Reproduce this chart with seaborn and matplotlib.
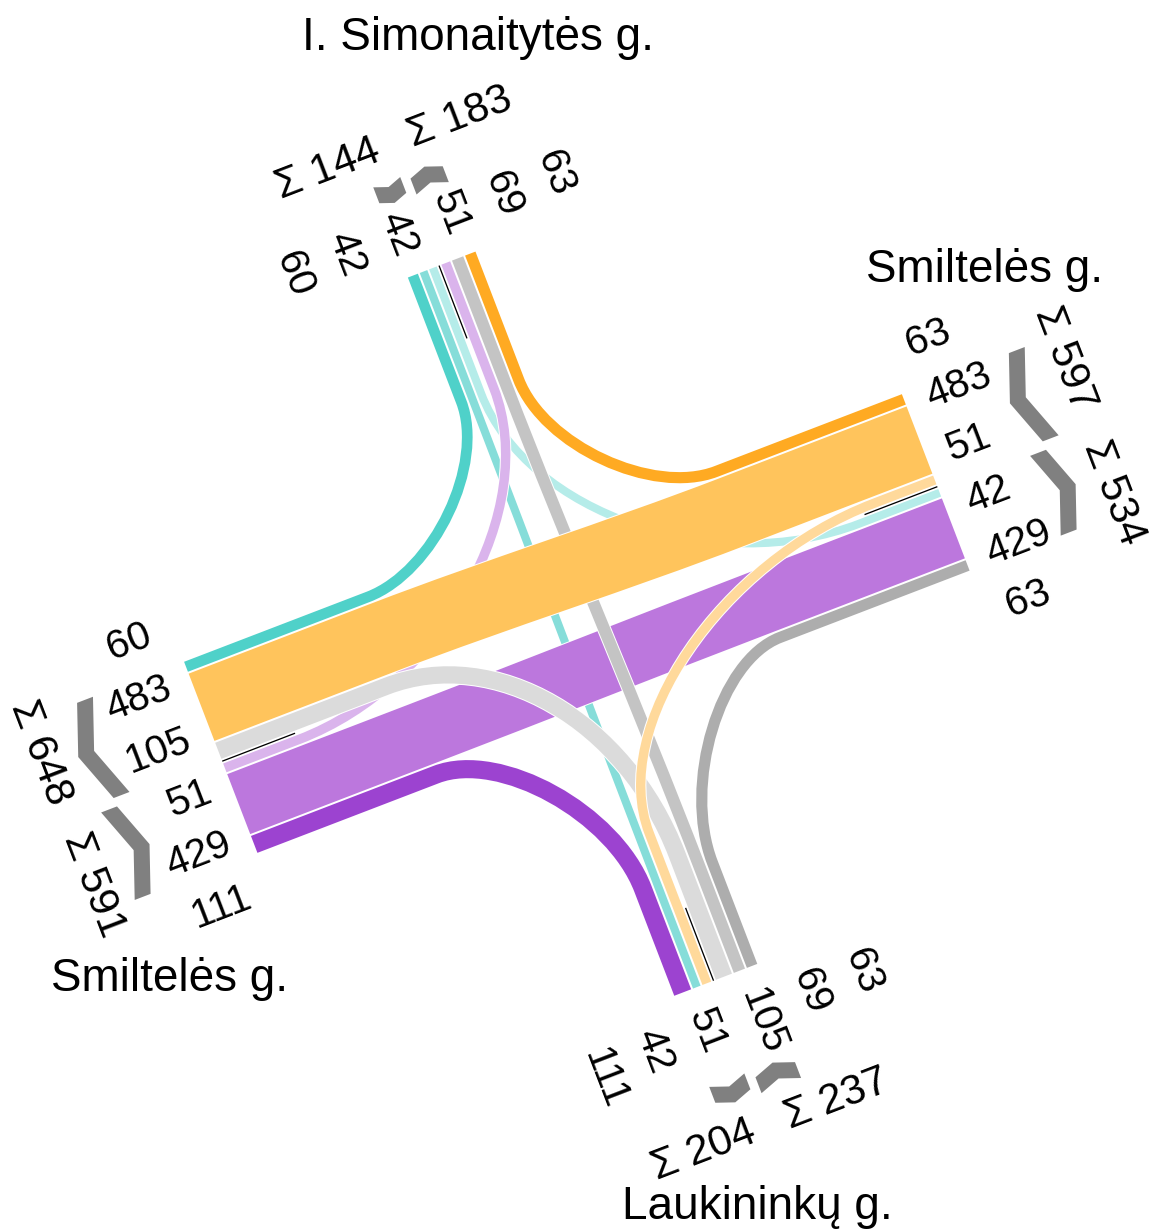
import numpy as np
import matplotlib
matplotlib.use('Agg')
import matplotlib.pyplot as plt
from matplotlib.path import Path
from matplotlib.patches import PathPatch, Polygon
import seaborn as sns

sns.set_theme(style='white')
plt.rcParams['font.family'] = ['Liberation Sans', 'DejaVu Sans']

# arms of the junction and their street names
arms = ['N', 'E', 'S', 'W']
street = {'N': 'I. Simonaitytės g.', 'E': 'Smiltelės g.',
          'S': 'Laukininkų g.', 'W': 'Smiltelės g.'}

# turning movements: origin -> destination, vehicles
flow_from = ['N', 'N', 'N', 'E', 'E', 'E', 'S', 'S', 'S', 'W', 'W', 'W']
flow_to = ['W', 'S', 'E', 'N', 'W', 'S', 'E', 'N', 'W', 'S', 'E', 'N']
flow_vol = [60, 42, 42, 63, 483, 51, 63, 69, 105, 111, 429, 51]

# colour by origin: right turn, straight, left turn
shades = {'N': ['#4fd1c9', '#86ddd9', '#b5ece9'],
          'E': ['#ffaa22', '#ffc45c', '#ffd99b'],
          'S': ['#adadad', '#c4c4c4', '#dbdbdb'],
          'W': ['#9c43d0', '#bc77dd', '#dab4ec']}

# layout (pixels)
cx, cy = 577, 625
theta = np.radians(21)
ct, st = np.cos(theta), np.sin(theta)
arm_len = {'N': 385, 'E': 386, 'S': 381, 'W': 380}
turn_start = {'N': 250, 'S': 270, 'E': 185, 'W': 185}
# where left turns leave / join their lanes (origin arm, destination arm)
left_reach = {('N', 'E'): (250, 300), ('E', 'S'): (320, 220),
              ('S', 'W'): (250, 200), ('W', 'N'): (300, 250)}
scale, base, gap, mid = 0.145, 2.0, 2.0, 5.0
PT = 0.72  # points per pixel at dpi 100
fs_num, fs_sum, fs_name = 29, 30.5, 33

out_dir = {'E': np.array([1., 0.]), 'N': np.array([0., 1.]),
           'W': np.array([-1., 0.]), 'S': np.array([0., -1.])}
angle = {'E': 0, 'N': 90, 'W': 180, 'S': 270}


def right_of(a):
    d = out_dir[a]
    return np.array([d[1], -d[0]])


def to_img(p):
    p = np.atleast_2d(p)
    x, y = p[:, 0], p[:, 1]
    return np.column_stack([cx + x * ct - y * st, cy - x * st - y * ct])


def turn(o, d):
    t = (angle[d] - angle[o] - 180) % 360
    return {0: 'straight', 90: 'left', 270: 'right'}[t]


def point(a, u, lat):
    return u * out_dir[a] + lat * right_of(a)


def spread(vals, step):
    vals = np.asarray(vals, float)
    order = np.argsort(vals)
    p = vals[order].copy()
    for _ in range(300):
        for j in range(len(p) - 1):
            d = step - (p[j + 1] - p[j])
            if d > 0:
                p[j] -= d / 2
                p[j + 1] += d / 2
    out = np.empty_like(p)
    out[order] = p
    return out


rank = {'left': 0, 'straight': 1, 'right': 2}
shade_idx = {'right': 0, 'straight': 1, 'left': 2}
n = len(flow_vol)
kind = [turn(flow_from[i], flow_to[i]) for i in range(n)]
width = [base + scale * v for v in flow_vol]

# lateral offsets of every band at both of its arms
lat_o, lat_d, groups = {}, {}, {}
for a in arms:
    ent = sorted([i for i in range(n) if flow_from[i] == a], key=lambda i: rank[kind[i]])
    lea = sorted([i for i in range(n) if flow_to[i] == a], key=lambda i: rank[kind[i]])
    pos = mid / 2
    for i in ent:
        lat_o[i] = -(pos + width[i] / 2)
        pos += width[i] + gap
    ent_edge = pos - gap
    pos = mid / 2
    for i in lea:
        lat_d[i] = pos + width[i] / 2
        pos += width[i] + gap
    lea_edge = pos - gap
    groups[a] = [(ent, -1, ent_edge), (lea, 1, lea_edge)]

fig = plt.figure(figsize=(11.54, 12.29), dpi=100)
ax = fig.add_axes([0, 0, 1, 1])
ax.set_xlim(0, 1154)
ax.set_ylim(1229, 0)
ax.axis('off')

codes = [Path.MOVETO, Path.LINETO, Path.CURVE4, Path.CURVE4, Path.CURVE4, Path.LINETO]
for o in ['N', 'W', 'S', 'E']:
    for i in [j for j in range(n) if flow_from[j] == o]:
        d = flow_to[i]
        k = kind[i]
        if k == 'left':
            du, dd = left_reach[(o, d)]
        else:
            du, dd = turn_start[o], turn_start[d]
        a_end = point(o, arm_len[o], lat_o[i])
        a0 = point(o, du, lat_o[i])
        b0 = point(d, dd, lat_d[i])
        b_end = point(d, arm_len[d], lat_d[i])
        if k == 'straight':
            dist = np.linalg.norm(a0 - b0)
            p1 = a0 - out_dir[o] * dist / 3
            p2 = b0 - out_dir[d] * dist / 3
        else:
            corner = lat_o[i] * right_of(o) + lat_d[i] * right_of(d)
            kk = 0.45 if k == 'right' else (0.55 if (o, d) == ('S', 'W') else 0.5)
            p1 = a0 + kk * (corner - a0)
            p2 = b0 + kk * (corner - b0)
        path = Path(to_img(np.array([a_end, a0, p1, p2, b0, b_end])), codes)
        col = shades[o][shade_idx[k]]
        ax.add_patch(PathPatch(path, fill=False, ec='white', lw=(width[i] + 2) * PT,
                               capstyle='butt', joinstyle='round'))
        ax.add_patch(PathPatch(path, fill=False, ec=col, lw=width[i] * PT,
                               capstyle='butt', joinstyle='round'))

for a in arms:
    L = arm_len[a]
    # centre line at the end of the arm
    seg = to_img(np.array([point(a, L, 0), point(a, L - 78, 0)]))
    ax.plot(seg[:, 0], seg[:, 1], color='black', lw=1.3 * PT, solid_capstyle='butt')

    # volume labels next to the band ends
    ids = [i for i in range(n) if flow_from[i] == a] + [i for i in range(n) if flow_to[i] == a]
    lats = [lat_o[i] if flow_from[i] == a else lat_d[i] for i in ids]
    spread_lat = spread(lats, 56)
    rot = 21 if a in 'EW' else -69
    ha = 'right' if a in 'NW' else 'left'
    for i, lt in zip(ids, spread_lat):
        x, y = to_img(point(a, L + 22, lt))[0]
        ax.text(x, y, str(flow_vol[i]), fontsize=fs_num, rotation=rot, rotation_mode='anchor',
                ha=ha, va='center', color='black')

    # direction chevrons and sums
    nchar = max(len(str(flow_vol[i])) for i in ids)
    u0 = L + 22 + nchar * 23.2 + 6
    thick = 17
    sum_lat, sum_txt, sum_u = [], [], []
    for members, sign, edge in groups[a]:
        la, lb = sign * (mid / 2 + 2), sign * edge
        lm = (la + lb) / 2
        bulge = 0.18 * abs(lb - la)
        if sign > 0:   # traffic leaving the junction: arrow points outward
            pts = [(u0, la), (u0 + thick, la), (u0 + thick + bulge, lm),
                   (u0 + thick, lb), (u0, lb), (u0 + bulge, lm)]
        else:          # traffic entering: arrow points inward
            pts = [(u0 + bulge, la), (u0 + thick + bulge, la), (u0 + thick, lm),
                   (u0 + thick + bulge, lb), (u0 + bulge, lb), (u0, lm)]
        poly = to_img(np.array([point(a, u, lt) for u, lt in pts]))
        ax.add_patch(Polygon(poly, closed=True, fc='#808080', ec='none'))
        sum_lat.append(lm)
        sum_txt.append('Σ ' + str(sum(flow_vol[i] for i in members)))
        sum_u.append(u0 + thick + bulge + 33)
    srot = -69 if a in 'EW' else 21
    for lt, txt, u in zip(spread(sum_lat, 142), sum_txt, sum_u):
        x, y = to_img(point(a, u, lt))[0]
        ax.text(x, y, txt, fontsize=fs_sum, rotation=srot, rotation_mode='anchor',
                ha='center', va='center', color='black')

# street names
name_pos = {'N': (583, 118), 'E': (508, -185), 'S': (608, 40), 'W': (507, -185)}
for a in arms:
    u, lt = name_pos[a]
    x, y = to_img(point(a, u, lt))[0]
    ax.text(x, y, street[a], fontsize=fs_name, ha='center', va='center', color='black')

fig.savefig('out.png', dpi=100, facecolor='white')
